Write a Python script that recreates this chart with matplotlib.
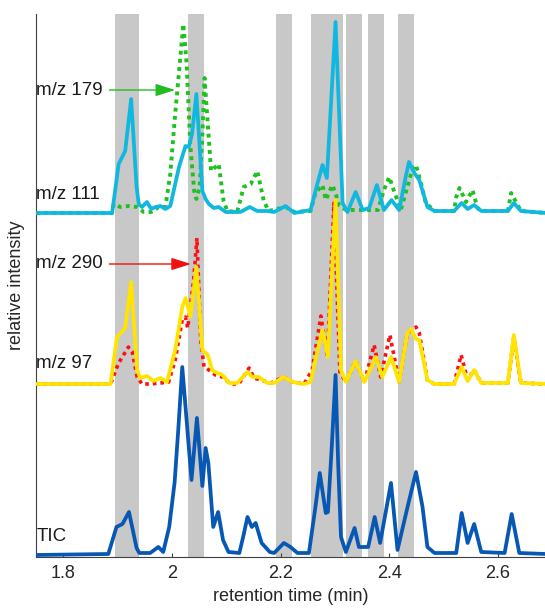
import matplotlib
matplotlib.use("Agg")
import matplotlib.pyplot as plt

plt.rcParams['font.family'] = ['Liberation Sans', 'DejaVu Sans']

# retention windows shaded in grey (min)
band_start = [1.8956, 2.030, 2.191, 2.2555, 2.3205, 2.3609, 2.4166]
band_end = [1.9398, 2.0593, 2.2206, 2.3155, 2.3504, 2.3909, 2.4461]

# TIC
tic_t = [1.750, 1.883, 1.898, 1.909, 1.921, 1.935, 1.940, 1.960, 1.975, 1.984,
         1.995, 2.005, 2.012, 2.019, 2.036, 2.046, 2.056, 2.062, 2.067, 2.076,
         2.085, 2.094, 2.104, 2.124, 2.131, 2.139, 2.147, 2.154, 2.165, 2.180,
         2.188, 2.206, 2.218, 2.231, 2.252, 2.264, 2.272, 2.283, 2.287, 2.294,
         2.301, 2.306, 2.311, 2.320, 2.336, 2.344, 2.361, 2.373, 2.383, 2.403,
         2.415, 2.433, 2.449, 2.461, 2.470, 2.483, 2.523, 2.533, 2.544, 2.556,
         2.569, 2.612, 2.625, 2.639, 2.688]
tic_v = [2, 3, 30, 33, 45, 9, 4, 4, 10, 5,
         30, 75, 130, 190, 77, 139, 71, 109, 94, 30,
         45, 17, 5, 4, 20, 40, 30, 34, 14, 5,
         4, 14, 10, 4, 4, 50, 84, 44, 45, 110,
         182, 90, 20, 5, 29, 10, 10, 40, 14, 74,
         7, 49, 85, 50, 10, 4, 4, 44, 14, 33,
         5, 4, 43, 4, 3]

# m/z 97
mz97_t = [1.750, 1.887, 1.899, 1.914, 1.925, 1.936, 1.942, 1.954, 1.966, 1.979,
          1.991, 2.006, 2.019, 2.025, 2.034, 2.045, 2.056, 2.066, 2.074, 2.080,
          2.093, 2.105, 2.120, 2.139, 2.148, 2.160, 2.175, 2.188, 2.205, 2.222,
          2.243, 2.255, 2.268, 2.277, 2.287, 2.296, 2.301, 2.311, 2.320, 2.338,
          2.354, 2.375, 2.387, 2.403, 2.418, 2.433, 2.440, 2.449, 2.455, 2.470,
          2.483, 2.519, 2.533, 2.544, 2.556, 2.569, 2.618, 2.629, 2.642, 2.688]
mz97_v = [1, 1, 48, 57, 103, 15, 7, 9, 4, 7,
          3, 35, 78, 87, 68, 118, 35, 30, 15, 13,
          10, 2, 2, 13, 8, 8, 2, 2, 8, 3,
          1, 3, 35, 55, 28, 130, 185, 15, 3, 24,
          3, 28, 8, 28, 3, 52, 56, 46, 45, 5,
          1, 1, 18, 4, 15, 2, 2, 50, 2, 1]

# m/z 290
mz290_t = [1.750, 1.887, 1.902, 1.920, 1.927, 1.936, 1.945, 1.960, 1.979, 1.994,
           2.006, 2.019, 2.025, 2.029, 2.040, 2.046, 2.053, 2.059, 2.068, 2.080,
           2.093, 2.108, 2.123, 2.142, 2.151, 2.163, 2.182, 2.205, 2.222, 2.243,
           2.258, 2.274, 2.286, 2.298, 2.309, 2.320, 2.338, 2.354, 2.372, 2.384,
           2.401, 2.418, 2.433, 2.449, 2.455, 2.470, 2.483, 2.519, 2.532, 2.544,
           2.556, 2.569, 2.618, 2.629, 2.642, 2.688]
mz290_v = [1, 1, 22, 38, 33, 8, 1, 1, 2, 3,
           25, 65, 68, 57, 105, 147, 45, 18, 15, 10,
           8, 1, 1, 17, 7, 5, 2, 8, 3, 1,
           15, 69, 28, 182, 13, 3, 24, 3, 40, 8,
           50, 3, 52, 58, 52, 5, 1, 1, 30, 5,
           15, 2, 2, 48, 2, 1]

# m/z 111
mz111_t = [1.750, 1.890, 1.902, 1.914, 1.925, 1.935, 1.939, 1.945, 1.954, 1.962,
           1.970, 1.979, 1.988, 1.997, 2.013, 2.025, 2.031, 2.037, 2.045, 2.051,
           2.056, 2.062, 2.068, 2.077, 2.086, 2.099, 2.126, 2.143, 2.157, 2.175,
           2.188, 2.209, 2.225, 2.255, 2.268, 2.277, 2.285, 2.301, 2.314, 2.323,
           2.338, 2.351, 2.363, 2.377, 2.390, 2.404, 2.418, 2.430, 2.436, 2.446,
           2.455, 2.470, 2.483, 2.519, 2.533, 2.544, 2.556, 2.569, 2.618, 2.629,
           2.642, 2.688]
mz111_v = [0, 0, 49, 62, 114, 26, 9, 6, 11, 4,
           6, 7, 4, 7, 46, 67, 66, 79, 119, 66,
           22, 14, 9, 5, 6, 1, 1, 6, 2, 2,
           1, 7, 0, 3, 30, 48, 35, 191, 10, 1,
           21, 3, 5, 28, 3, 13, 3, 36, 51, 40,
           33, 6, 2, 2, 10, 4, 8, 2, 2, 10,
           2, 0]

# m/z 179
mz179_t = [1.750, 1.890, 1.893, 1.905, 1.920, 1.936, 1.948, 1.962, 1.976, 1.988,
           1.997, 2.006, 2.016, 2.021, 2.027, 2.034, 2.041, 2.045, 2.051, 2.056,
           2.060, 2.066, 2.072, 2.080, 2.086, 2.095, 2.102, 2.120, 2.132, 2.145,
           2.157, 2.169, 2.178, 2.209, 2.225, 2.255, 2.264, 2.277, 2.283, 2.295,
           2.301, 2.307, 2.320, 2.366, 2.379, 2.390, 2.400, 2.406, 2.421, 2.433,
           2.443, 2.449, 2.458, 2.467, 2.483, 2.519, 2.523, 2.529, 2.541, 2.553,
           2.562, 2.569, 2.618, 2.624, 2.633, 2.642, 2.688]
mz179_v = [0, 0, 9, 6, 7, 6, 1, 1, 6, 6,
           39, 99, 159, 189, 149, 66, 22, 14, 26, 79,
           135, 89, 42, 46, 49, 12, 2, 1, 26, 29,
           42, 12, 2, 6, 1, 2, 20, 28, 13, 28,
           20, 8, 3, 3, 3, 23, 36, 26, 3, 26,
           45, 48, 30, 10, 2, 2, 16, 25, 11, 23,
           5, 2, 2, 20, 11, 2, 0]

# vertical stacking of the traces
offset_tic = 0
offset_mid = 172
offset_top = 344

fig = plt.figure(figsize=(5.45, 6.09), dpi=100)
ax = fig.add_axes([0.0661, 0.0854, 0.934, 0.8916])

for s, e in zip(band_start, band_end):
    ax.axvspan(s, e, color='#c8c8c8', lw=0, zorder=0)

solid = dict(lw=2.7, solid_joinstyle='round', solid_capstyle='round')

ax.plot(tic_t, [v + offset_tic for v in tic_v], color='#0757b4', zorder=3, **solid)

ax.plot(mz290_t, [v + offset_mid for v in mz290_v], color='#ff1010', lw=2.6,
        dashes=(1, 1.1), zorder=2)
ax.plot(mz97_t, [v + offset_mid for v in mz97_v], color='#ffe400', zorder=3, **solid)

ax.plot(mz179_t, [v + offset_top for v in mz179_v], color='#1ec21e', lw=2.8,
        dashes=(1, 1.1), zorder=2)
ax.plot(mz111_t, [v + offset_top for v in mz111_v], color='#10b8e0', zorder=3, **solid)

# trace labels
lab_kw = dict(ha='left', va='center', fontsize=13.5, color='#1a1a1a')
ax.text(1.7505, 467, 'm/z 179', **lab_kw)
ax.text(1.7505, 363, 'm/z 111', **lab_kw)
ax.text(1.7505, 293, 'm/z 290', **lab_kw)
ax.text(1.7505, 193, 'm/z 97', **lab_kw)
ax.text(1.7505, 20, 'TIC', **lab_kw)

ax.annotate('', xy=(2.006, 467), xytext=(1.885, 467),
            arrowprops=dict(arrowstyle='-|>,head_length=1.2,head_width=0.38',
                            color='#22bb22', lw=1.0, shrinkA=0, shrinkB=0))
ax.annotate('', xy=(2.035, 293), xytext=(1.885, 293),
            arrowprops=dict(arrowstyle='-|>,head_length=1.2,head_width=0.38',
                            color='#ee1111', lw=1.0, shrinkA=0, shrinkB=0))

ax.set_xlim(1.75, 2.6864)
ax.set_ylim(0, 543)
ax.set_xticks([1.8, 2.0, 2.2, 2.4, 2.6])
ax.set_xticklabels(['1.8', '2', '2.2', '2.4', '2.6'])
ax.set_yticks([])
ax.tick_params(axis='x', direction='in', length=3, width=0.8, color='#404040',
               labelsize=13, labelcolor='#262626', pad=6)
ax.spines['top'].set_visible(False)
ax.spines['right'].set_visible(False)
for sp in ('left', 'bottom'):
    ax.spines[sp].set_color('#404040')
    ax.spines[sp].set_linewidth(0.8)

ax.set_xlabel('retention time (min)', fontsize=13, color='#262626', labelpad=4)
ax.set_ylabel('relative intensity', fontsize=13, color='#262626')
ax.yaxis.set_label_coords(-0.022, 0.5)

fig.savefig('out.png', dpi=100)
